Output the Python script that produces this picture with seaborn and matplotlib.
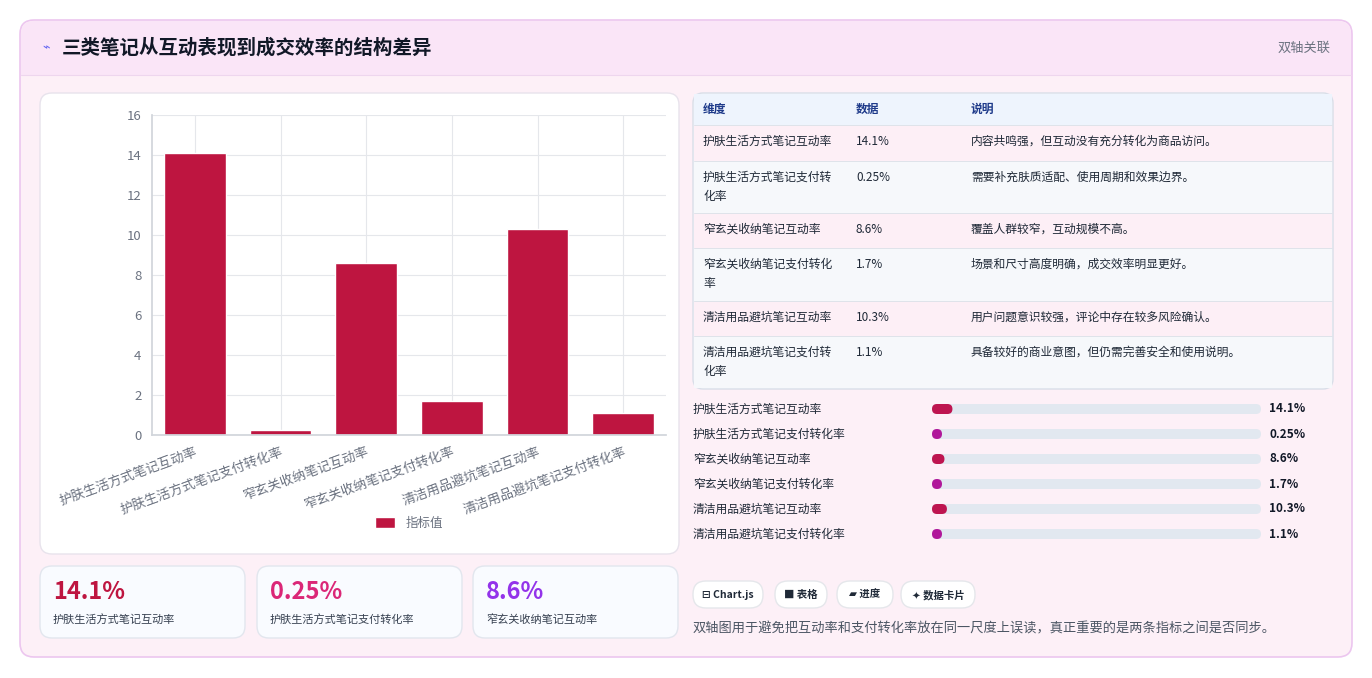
import matplotlib
matplotlib.use("Agg")
import matplotlib.pyplot as plt
from matplotlib.patches import FancyBboxPatch, Rectangle
import seaborn as sns
import pandas as pd

categories = ["护肤生活方式笔记互动率", "护肤生活方式笔记支付转化率", "窄玄关收纳笔记互动率",
              "窄玄关收纳笔记支付转化率", "清洁用品避坑笔记互动率", "清洁用品避坑笔记支付转化率"]
values = [14.1, 0.25, 8.6, 1.7, 10.3, 1.1]
value_labels = ["14.1%", "0.25%", "8.6%", "1.7%", "10.3%", "1.1%"]
table_names = ["护肤生活方式笔记互动率", "护肤生活方式笔记支付转\n化率", "窄玄关收纳笔记互动率",
               "窄玄关收纳笔记支付转化\n率", "清洁用品避坑笔记互动率", "清洁用品避坑笔记支付转\n化率"]
notes = ["内容共鸣强，但互动没有充分转化为商品访问。", "需要补充肤质适配、使用周期和效果边界。",
         "覆盖人群较窄，互动规模不高。", "场景和尺寸高度明确，成交效率明显更好。",
         "用户问题意识较强，评论中存在较多风险确认。", "具备较好的商业意图，但仍需完善安全和使用说明。"]
card_values = ["14.1%", "0.25%", "8.6%"]
card_labels = ["护肤生活方式笔记互动率", "护肤生活方式笔记支付转化率", "窄玄关收纳笔记互动率"]
chips = ["⊟ Chart.js", "■ 表格", "▰ 进度", "✦ 数据卡片"]

sns.set_theme(style="white")
plt.rcParams['font.family'] = ['Noto Sans CJK SC', 'DejaVu Sans']

W, H = 1372, 678
fig = plt.figure(figsize=(W/100, H/100), dpi=100)
fig.patch.set_facecolor("white")
bg = fig.add_axes([0, 0, 1, 1], zorder=0)
bg.set_xlim(0, W); bg.set_ylim(H, 0); bg.axis("off")

def box(x0, y0, x1, y1, fc, ec="none", r=10, lw=1, z=1):
    bg.add_patch(FancyBboxPatch((x0, y0), x1-x0, y1-y0, boxstyle=f"round,pad=0,rounding_size={r}",
                                fc=fc, ec=ec, lw=lw, zorder=z))

def txt(x, y, s, size=9, color="#1f2937", weight="normal", ha="left", va="center", **kw):
    bg.text(x, y, s, fontsize=size, color=color, fontweight=weight, ha=ha, va=va, zorder=10, **kw)

# outer panel
box(20, 20, 1352, 657, "#fdf0f7", ec="#ecc6ef", r=14, lw=1.2)
box(21, 21, 1351, 75, "#fae5f7", r=13, z=2)
bg.add_patch(Rectangle((21, 60), 1330, 15, fc="#fae5f7", ec="none", zorder=2))
bg.plot([21, 1351], [75, 75], color="#eed6ee", lw=0.8, zorder=3)
txt(42, 48, "⌁", 9, "#6366f1")
txt(62, 48, "三类笔记从互动表现到成交效率的结构差异", 14, "#111827", "bold")
txt(1331, 48, "双轴关联", 9.5, "#6b7280", ha="right")

# chart card
box(40, 93, 679, 554, "white", ec="#e8e3ec", r=12)

# table
box(693, 93, 1333, 389, "#f8fafc", ec="#d8dee8", r=10, z=2)
bg.add_patch(Rectangle((694, 94), 638, 31, fc="#eef4fd", ec="none", zorder=3))
txt(703, 109, "维度", 8.5, "#1e3a8a", "bold")
txt(856, 109, "数据", 8.5, "#1e3a8a", "bold")
txt(971, 109, "说明", 8.5, "#1e3a8a", "bold")
rows = [(125, 161), (161, 213), (213, 248), (248, 301), (301, 336), (336, 388)]
for i, (y0, y1) in enumerate(rows):
    fc = "#fdeff6" if i % 2 == 0 else "#f6f8fb"
    bg.add_patch(Rectangle((694, y0), 638, y1-y0, fc=fc, ec="none", zorder=3))
    bg.plot([694, 1332], [y0, y0], color="#dfe3ea", lw=0.7, zorder=4)
    txt(703, y0+10, table_names[i], 8.5, "#1f2937", va="top", linespacing=1.6)
    txt(856, y0+10, value_labels[i], 8.5, "#1f2937", va="top")
    txt(971, y0+10, notes[i], 8.5, "#1f2937", va="top")

# progress bars
for i, lab in enumerate(categories):
    y = 409 + i*25
    txt(693, y, lab, 8.5, "#1f2937")
    box(932, y-5, 1261, y+5, "#e2e8f0", r=5, z=3)
    fw = max(10, values[i]*1.45)
    box(932, y-5, 932+fw, y+5, "#b0179a" if values[i] < 5 else "#be1550", r=5, z=4)
    txt(1269, y, value_labels[i], 8.5, "#111827", "bold")

# chips
cx = [693, 775, 837, 901]
cw = [70, 52, 56, 74]
for x, w, s in zip(cx, cw, chips):
    box(x, 581, x+w, 608, "white", ec="#e5e7eb", r=13)
    txt(x+w/2, 595, s, 7.5, "#1f2937", "bold", ha="center")
txt(693, 629, "双轴图用于避免把互动率和支付转化率放在同一尺度上误读，真正重要的是两条指标之间是否同步。", 9.5, "#4b5563")

# metric cards
card_colors = ["#be1540", "#db2777", "#9333ea"]
for i, x in enumerate([40, 257, 473]):
    box(x, 566, x+205, 638, "#f9fbff", ec="#e2e6ee", r=12)
    txt(x+13, 592, card_values[i], 17, card_colors[i], "bold")
    txt(x+13, 619, card_labels[i], 8, "#374151")

# bar chart
ax = fig.add_axes([152/W, (H-435)/H, 514/W, 320/H], zorder=5)
ax.patch.set_alpha(0)
df = pd.DataFrame({"cat": categories, "val": values})
sns.barplot(data=df, x="cat", y="val", color="#be1540", width=0.72, ax=ax, label="指标值", saturation=1)
ax.set_ylim(0, 16)
ax.set_yticks(range(0, 17, 2))
ax.set_xlabel(""); ax.set_ylabel("")
ax.grid(True, color="#e5e7eb", lw=0.8)
ax.set_axisbelow(True)
for s in ["top", "right"]:
    ax.spines[s].set_visible(False)
for s in ["left", "bottom"]:
    ax.spines[s].set_color("#d1d5db")
ax.tick_params(axis="y", labelsize=9.5, labelcolor="#6b7280", length=4, color="#d1d5db")
ax.tick_params(axis="x", length=4, color="#d1d5db")
ax.set_xticks(range(len(categories)))
ax.set_xticklabels(categories, rotation=20, ha="right", rotation_mode="anchor", fontsize=9.5, color="#6b7280")
ax.set_xlim(-0.5, 5.5)
ax.legend(loc="upper center", bbox_to_anchor=(0.5, -0.22), frameon=False, fontsize=9,
          handlelength=1.6, handleheight=0.9, labelcolor="#6b7280")

fig.savefig("out.png", dpi=100)
